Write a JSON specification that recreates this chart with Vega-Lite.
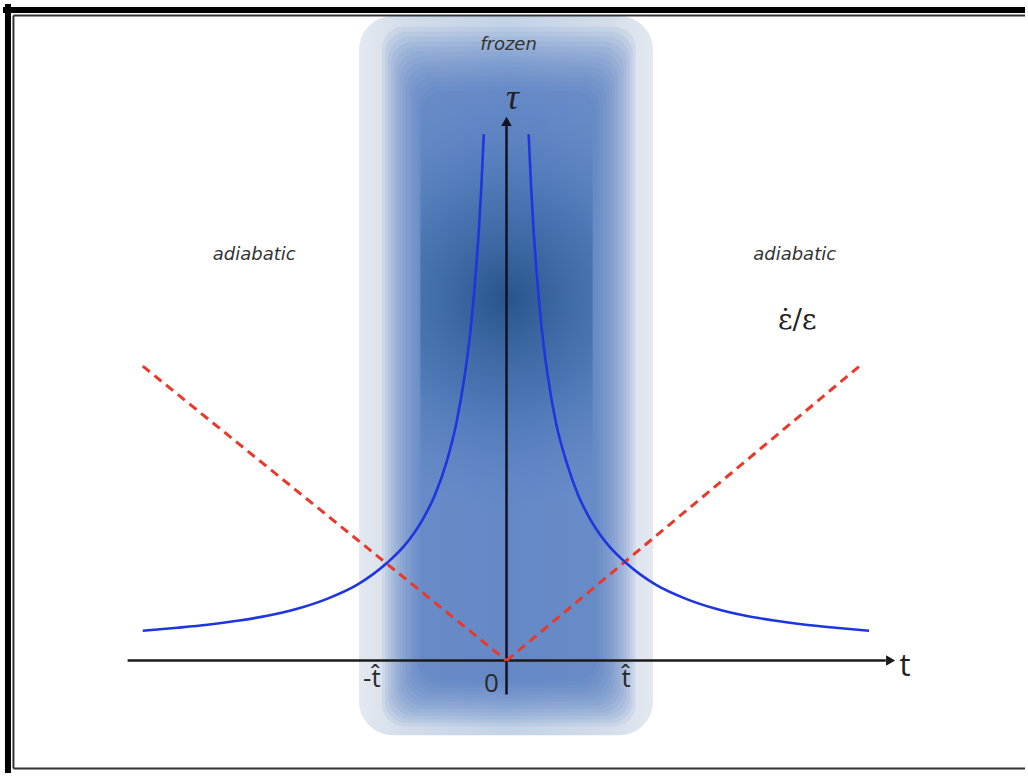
{
  "$schema": "https://vega.github.io/schema/vega-lite/v6.json",
  "width": 1028,
  "height": 776,
  "autosize": {"type": "fit", "contains": "padding"},
  "padding": 0,
  "background": "white",
  "config": {"view": {"stroke": null}},
  "datasets": {
    "frameOuter": [
      {"t": -4.1667, "t2": -4.1667, "tau": 6.6, "tau2": -1.13},
      {"t": -4.2083, "t2": 4.3333, "tau": 6.54, "tau2": 6.54}
    ],
    "frameInner": [
      {"t": -4.1208, "t2": -4.1208, "tau": 6.485, "tau2": -1.085},
      {"t": -4.1208, "t2": 4.3333, "tau": 6.485, "tau2": 6.485},
      {"t": -4.1208, "t2": 4.3333, "tau": -1.085, "tau2": -1.085}
    ],
    "outer": [{"t": -1.2333, "t2": 1.225, "tau": 6.48, "tau2": -0.75}],
    "column": [
      {"t": -1.04, "t2": 1.08, "tau": 6.37, "tau2": -0.66},
      {"t": -1.015, "t2": 1.055, "tau": 6.32, "tau2": -0.625},
      {"t": -0.99, "t2": 1.03, "tau": 6.27, "tau2": -0.59},
      {"t": -0.965, "t2": 1.005, "tau": 6.22, "tau2": -0.555},
      {"t": -0.94, "t2": 0.98, "tau": 6.17, "tau2": -0.52},
      {"t": -0.915, "t2": 0.955, "tau": 6.12, "tau2": -0.485},
      {"t": -0.89, "t2": 0.93, "tau": 6.07, "tau2": -0.45},
      {"t": -0.865, "t2": 0.905, "tau": 6.02, "tau2": -0.415},
      {"t": -0.84, "t2": 0.88, "tau": 5.97, "tau2": -0.38},
      {"t": -0.815, "t2": 0.855, "tau": 5.92, "tau2": -0.345},
      {"t": -0.79, "t2": 0.83, "tau": 5.87, "tau2": -0.31},
      {"t": -0.765, "t2": 0.805, "tau": 5.82, "tau2": -0.275},
      {"t": -0.74, "t2": 0.78, "tau": 5.77, "tau2": -0.24},
      {"t": -0.715, "t2": 0.755, "tau": 5.72, "tau2": -0.205}
    ],
    "spot": [{"t": -0.72, "t2": 0.72, "tau": 5.6, "tau2": 1.25}],
    "hAxis": [{"t": -3.1667, "t2": 3.17, "tau": 0, "tau2": 0}],
    "vAxis": [{"t": 0, "t2": 0, "tau": -0.34, "tau2": 5.38}],
    "arrowRight": [{"t": 3.21, "tau": 0}],
    "arrowUp": [{"t": 0, "tau": 5.42}],
    "red": [
      {"side": "left", "t": -3.04, "tau": 2.96},
      {"side": "left", "t": 0, "tau": 0},
      {"side": "right", "t": 0, "tau": 0},
      {"side": "right", "t": 2.95, "tau": 2.96}
    ],
    "blue": [
      {"side": "left", "t": -3.04, "tau": 0.3},
      {"side": "left", "t": -2.75, "tau": 0.33},
      {"side": "left", "t": -2.5, "tau": 0.36},
      {"side": "left", "t": -2.25, "tau": 0.4},
      {"side": "left", "t": -2.0, "tau": 0.45},
      {"side": "left", "t": -1.75, "tau": 0.52},
      {"side": "left", "t": -1.5, "tau": 0.62},
      {"side": "left", "t": -1.25, "tau": 0.76},
      {"side": "left", "t": -1.0, "tau": 0.98},
      {"side": "left", "t": -0.85, "tau": 1.16},
      {"side": "left", "t": -0.7, "tau": 1.42},
      {"side": "left", "t": -0.6, "tau": 1.66},
      {"side": "left", "t": -0.5, "tau": 2.0},
      {"side": "left", "t": -0.42, "tau": 2.38},
      {"side": "left", "t": -0.35, "tau": 2.86},
      {"side": "left", "t": -0.3, "tau": 3.33},
      {"side": "left", "t": -0.26, "tau": 3.85},
      {"side": "left", "t": -0.23, "tau": 4.35},
      {"side": "left", "t": -0.21, "tau": 4.77},
      {"side": "left", "t": -0.19, "tau": 5.29},
      {"side": "right", "t": 0.185, "tau": 5.29},
      {"side": "right", "t": 0.205, "tau": 4.77},
      {"side": "right", "t": 0.225, "tau": 4.35},
      {"side": "right", "t": 0.255, "tau": 3.85},
      {"side": "right", "t": 0.295, "tau": 3.33},
      {"side": "right", "t": 0.345, "tau": 2.86},
      {"side": "right", "t": 0.415, "tau": 2.38},
      {"side": "right", "t": 0.5, "tau": 2.0},
      {"side": "right", "t": 0.6, "tau": 1.66},
      {"side": "right", "t": 0.7, "tau": 1.42},
      {"side": "right", "t": 0.85, "tau": 1.16},
      {"side": "right", "t": 1.0, "tau": 0.98},
      {"side": "right", "t": 1.25, "tau": 0.76},
      {"side": "right", "t": 1.5, "tau": 0.62},
      {"side": "right", "t": 1.75, "tau": 0.52},
      {"side": "right", "t": 2.0, "tau": 0.45},
      {"side": "right", "t": 2.25, "tau": 0.4},
      {"side": "right", "t": 2.5, "tau": 0.36},
      {"side": "right", "t": 2.75, "tau": 0.33},
      {"side": "right", "t": 3.03, "tau": 0.3}
    ],
    "italicLabels": [
      {"t": 0.0167, "tau": 6.19, "label": "frozen"},
      {"t": -2.108, "tau": 4.08, "label": "adiabatic"},
      {"t": 2.408, "tau": 4.08, "label": "adiabatic"}
    ],
    "tauLabel": [{"t": 0.05, "tau": 5.66, "label": "τ"}],
    "rateLabel": [{"t": 2.43, "tau": 3.41, "label": "ε̇/ε"}],
    "tLabel": [{"t": 3.33, "tau": -0.06, "label": "t"}],
    "tickLabels": [
      {"t": -1.125, "tau": -0.19, "label": "-t̂"},
      {"t": -0.125, "tau": -0.24, "label": "0"},
      {"t": 1.0, "tau": -0.19, "label": "t̂"}
    ]
  },
  "encoding": {
    "x": {"field": "t", "type": "quantitative", "axis": null, "scale": {"domain": [-4.2333, 4.3333], "nice": false, "zero": false}},
    "y": {"field": "tau", "type": "quantitative", "axis": null, "scale": {"domain": [-1.13, 6.63], "nice": false, "zero": false}}
  },
  "layer": [
    {
      "data": {"name": "outer"},
      "mark": {"type": "rect", "cornerRadius": 34, "fill": {"gradient": "linear", "x1": 0, "y1": 0, "x2": 1, "y2": 0, "stops": [
        {"offset": 0, "color": "#e4e9f0"},
        {"offset": 0.15, "color": "#d3ddea"},
        {"offset": 0.5, "color": "#c2d2e7"},
        {"offset": 0.85, "color": "#d3ddea"},
        {"offset": 1, "color": "#e4e9f0"}
      ]}},
      "encoding": {"x2": {"field": "t2"}, "y2": {"field": "tau2"}}
    },
    {
      "data": {"name": "column"},
      "mark": {"type": "rect", "cornerRadius": 22, "color": "#4677bd", "opacity": 0.095},
      "encoding": {"x2": {"field": "t2"}, "y2": {"field": "tau2"}}
    },
    {
      "data": {"name": "spot"},
      "mark": {"type": "rect", "fill": {"gradient": "radial", "x1": 0.5, "y1": 0.45, "x2": 0.5, "y2": 0.45, "r1": 0, "r2": 0.5, "stops": [
        {"offset": 0, "color": "rgba(30,75,130,0.85)"},
        {"offset": 0.45, "color": "rgba(45,95,155,0.5)"},
        {"offset": 1, "color": "rgba(80,130,195,0)"}
      ]}},
      "encoding": {"x2": {"field": "t2"}, "y2": {"field": "tau2"}}
    },
    {
      "data": {"name": "frameOuter"},
      "mark": {"type": "rule", "color": "black", "strokeWidth": 6},
      "encoding": {"x2": {"field": "t2"}, "y2": {"field": "tau2"}}
    },
    {
      "data": {"name": "frameInner"},
      "mark": {"type": "rule", "color": "#333333", "strokeWidth": 2},
      "encoding": {"x2": {"field": "t2"}, "y2": {"field": "tau2"}}
    },
    {
      "data": {"name": "hAxis"},
      "mark": {"type": "rule", "color": "#1a1a1a", "strokeWidth": 2.5},
      "encoding": {"x2": {"field": "t2"}, "y2": {"field": "tau2"}}
    },
    {
      "data": {"name": "vAxis"},
      "mark": {"type": "rule", "color": "#111122", "strokeWidth": 2.5},
      "encoding": {"x2": {"field": "t2"}, "y2": {"field": "tau2"}}
    },
    {
      "data": {"name": "arrowRight"},
      "mark": {"type": "point", "shape": "triangle-right", "filled": true, "color": "#1a1a1a", "size": 110, "opacity": 1}
    },
    {
      "data": {"name": "arrowUp"},
      "mark": {"type": "point", "shape": "triangle-up", "filled": true, "color": "#111122", "size": 110, "opacity": 1}
    },
    {
      "data": {"name": "red"},
      "mark": {"type": "line", "color": "#e8392b", "strokeWidth": 3, "strokeDash": [9, 6]},
      "encoding": {"detail": {"field": "side"}}
    },
    {
      "data": {"name": "blue"},
      "mark": {"type": "line", "color": "#1f35e0", "strokeWidth": 2.6, "interpolate": "monotone"},
      "encoding": {"detail": {"field": "side"}}
    },
    {
      "data": {"name": "italicLabels"},
      "mark": {"type": "text", "font": "DejaVu Sans", "fontStyle": "italic", "fontSize": 18, "color": "#333333", "baseline": "middle", "align": "center"},
      "encoding": {"text": {"field": "label"}}
    },
    {
      "data": {"name": "tauLabel"},
      "mark": {"type": "text", "font": "Liberation Serif", "fontStyle": "italic", "fontSize": 36, "color": "#222222", "baseline": "middle", "align": "center"},
      "encoding": {"text": {"field": "label"}}
    },
    {
      "data": {"name": "rateLabel"},
      "mark": {"type": "text", "font": "DejaVu Serif", "fontSize": 28, "color": "#222222", "baseline": "middle", "align": "center"},
      "encoding": {"text": {"field": "label"}}
    },
    {
      "data": {"name": "tLabel"},
      "mark": {"type": "text", "font": "Open Sans", "fontSize": 31, "color": "#222222", "baseline": "middle", "align": "center"},
      "encoding": {"text": {"field": "label"}}
    },
    {
      "data": {"name": "tickLabels"},
      "mark": {"type": "text", "font": "Open Sans", "fontSize": 26, "color": "#2a2a2a", "baseline": "middle", "align": "center"},
      "encoding": {"text": {"field": "label"}}
    }
  ]
}
